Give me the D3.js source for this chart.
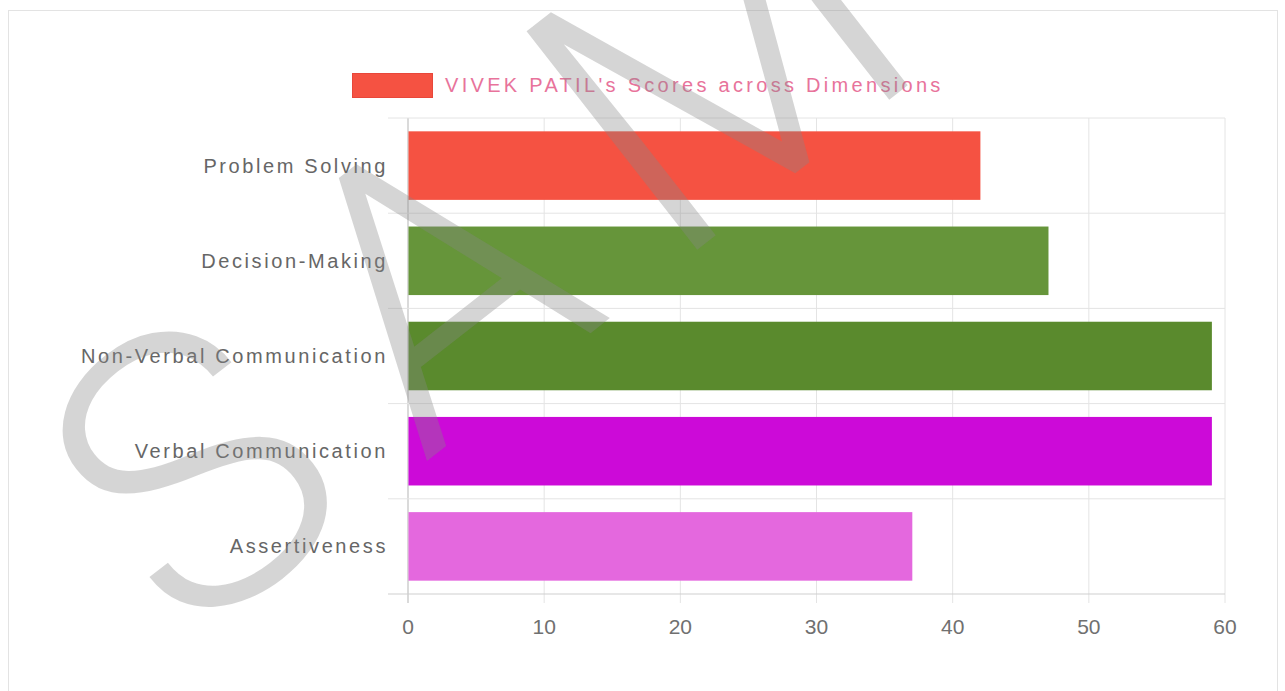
<!DOCTYPE html>
<html>
<head>
<meta charset="utf-8">
<title>Scores across Dimensions</title>
<script src="https://d3js.org/d3.v7.min.js"></script>
<style>
  body { margin: 0; background: #fff; }
  svg { display: block; font-family: "Liberation Sans", Arial, Helvetica, sans-serif; }
</style>
</head>
<body>
<script>
  // data
  var categories = ["Problem Solving", "Decision-Making", "Non-Verbal Communication", "Verbal Communication", "Assertiveness"];
  var scores = [42, 47, 59, 59, 37];
  var barColors = ["#f55242", "#66953a", "#5a8a2d", "#cc0ad8", "#e468de"];
  var xTicks = [0, 10, 20, 30, 40, 50, 60];
  var legendLabel = "VIVEK PATIL's Scores across Dimensions";

  var W = 1285, H = 691;
  var margin = {top: 118, right: 60, bottom: 97, left: 408};
  var width = W - margin.left - margin.right,
      height = H - margin.top - margin.bottom;

  var svg = d3.select("body").append("svg")
    .attr("width", W)
    .attr("height", H);

  // card outline
  svg.append("rect")
    .attr("x", 8.5).attr("y", 10.5)
    .attr("width", 1269).attr("height", 700)
    .attr("fill", "none")
    .attr("stroke", "#e3e3e3");

  var g = svg.append("g")
    .attr("transform", "translate(" + margin.left + "," + margin.top + ")");

  var x = d3.scaleLinear().domain([0, 60]).range([0, width]);
  var y = d3.scaleBand().domain(categories).range([0, height]).padding(0);

  // vertical grid
  g.selectAll(".vgrid")
    .data(xTicks)
    .enter().append("line")
    .attr("x1", function(d) { return x(d); })
    .attr("x2", function(d) { return x(d); })
    .attr("y1", 0).attr("y2", height + 9)
    .attr("stroke", function(d) { return d === 0 ? "#b5b5b5" : "#e4e4e4"; })
    .attr("stroke-width", 1);

  // horizontal grid on band edges
  var edges = categories.map(function(c) { return y(c); }).concat([height]);
  g.selectAll(".hgrid")
    .data(edges)
    .enter().append("line")
    .attr("x1", -20).attr("x2", width)
    .attr("y1", function(d) { return d; })
    .attr("y2", function(d) { return d; })
    .attr("stroke", function(d, i) { return i === edges.length - 1 ? "#cfcfcf" : "#e4e4e4"; });

  // bars
  var barH = y.bandwidth() * 0.72;
  g.selectAll(".bar")
    .data(scores)
    .enter().append("rect")
    .attr("class", "bar")
    .attr("x", x(0) + 0.5)
    .attr("y", function(d, i) { return y(categories[i]) + (y.bandwidth() - barH) / 2; })
    .attr("width", function(d) { return x(d) - x(0); })
    .attr("height", barH)
    .attr("fill", function(d, i) { return barColors[i]; });

  // y labels
  g.selectAll(".ylab")
    .data(categories)
    .enter().append("text")
    .attr("x", -20)
    .attr("y", function(d) { return y(d) + y.bandwidth() / 2; })
    .attr("dy", "0.35em")
    .attr("text-anchor", "end")
    .attr("fill", "#666")
    .style("font-size", "20px")
    .style("letter-spacing", "2.6px")
    .text(function(d) { return d; });

  // x labels
  g.selectAll(".xlab")
    .data(xTicks)
    .enter().append("text")
    .attr("x", function(d) { return x(d); })
    .attr("y", height + 33)
    .attr("dy", "0.35em")
    .attr("text-anchor", "middle")
    .attr("fill", "#707070")
    .style("font-size", "21px")
    .text(function(d) { return d; });

  // legend
  var lg = svg.append("g").attr("transform", "translate(352,73)");
  lg.append("rect")
    .attr("x", 0.5).attr("y", 0.5)
    .attr("width", 80).attr("height", 24)
    .attr("fill", barColors[0])
    .attr("stroke", "#e8473a");
  lg.append("text")
    .attr("x", 93).attr("y", 12)
    .attr("dy", "0.35em")
    .attr("fill", "#e8739b")
    .style("font-size", "20px")
    .style("letter-spacing", "3.3px")
    .text(legendLabel);

  // watermark
  svg.append("text")
    .attr("transform", "translate(185,650) rotate(-38)")
    .attr("fill", "#888")
    .attr("fill-opacity", 0.35)
    .style("font-size", "390px")
    .style("font-weight", 300)
    .style("letter-spacing", "70px")
    .style("font-family", "Roboto, 'Liberation Sans', sans-serif")
    .text("SAMPLE");
</script>
</body>
</html>
